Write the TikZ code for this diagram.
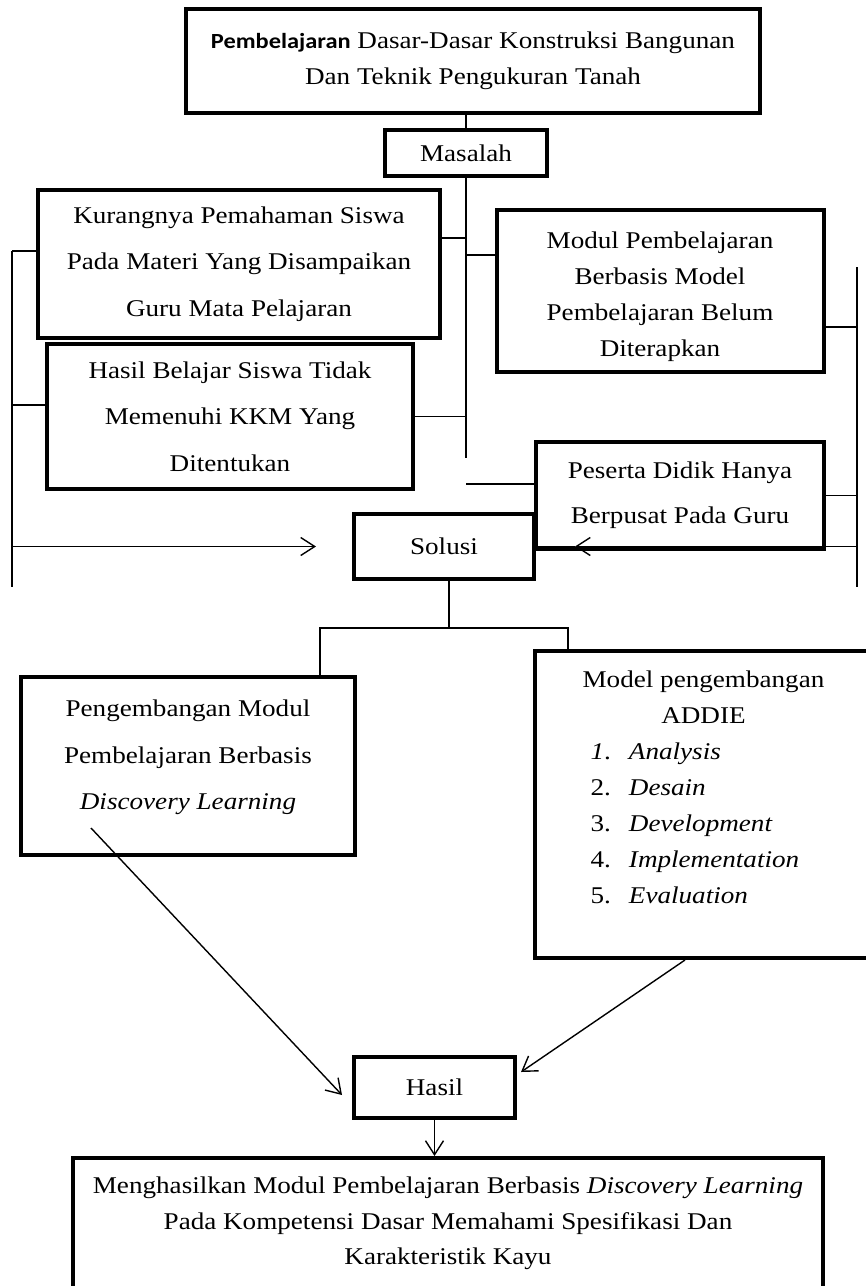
\documentclass[tikz,border=0pt]{standalone}
\usepackage{fontspec}
\setmainfont{Liberation Serif}[FakeStretch=1.13]
\newfontfamily\calibri{Carlito}[FakeStretch=1.13]
\usetikzlibrary{arrows.meta, calc, positioning}

\begin{document}
\begin{tikzpicture}[
    x=0.5pt, y=-0.5pt,
    box/.style={draw, line width=2pt, align=center, inner sep=0pt},
    wide/.style={font=\fontsize{12}{23.25}\selectfont},
    tight/.style={font=\fontsize{12}{18}\selectfont},
    link/.style={line width=0.7pt},
    arr/.style={line width=0.7pt, -{Straight Barb[length=7pt,width=9pt]}}
]
\useasboundingbox (0,0) rectangle (866,1286);

% Top box and problem node
\node[box, tight, minimum width=287pt, minimum height=52pt] (topic) at (473,61)
    {{\calibri\fontsize{10.8}{18}\selectfont\bfseries Pembelajaran} Dasar-Dasar Konstruksi Bangunan\\Dan Teknik Pengukuran Tanah};
\node[box, tight, minimum width=81pt, minimum height=23pt] (masalah) at (466,153) {Masalah};

% Problems
\node[box, wide, minimum width=201pt, minimum height=74pt] (kurang) at (239,264)
    {Kurangnya Pemahaman Siswa\\Pada Materi Yang Disampaikan\\Guru Mata Pelajaran};
\node[box, tight, minimum width=163.5pt, minimum height=81pt] (modul) at (660,291)
    {\rule{0pt}{14.2pt}Modul Pembelajaran\\Berbasis Model\\Pembelajaran Belum\\Diterapkan};
\node[box, wide, minimum width=183pt, minimum height=72.5pt] (hasilbel) at (230,416.5)
    {Hasil Belajar Siswa Tidak\\Memenuhi KKM Yang\\Ditentukan};
\node[box, font=\fontsize{12}{22.5}\selectfont, minimum width=144pt, minimum height=53.5pt] (peserta) at (680,495.5)
    {Peserta Didik Hanya\\Berpusat Pada Guru};

% Solution
\node[box, tight, minimum width=90pt, minimum height=32.5pt] (solusi) at (444,546.5) {Solusi};
\node[box, wide, minimum width=167pt, minimum height=89pt] (pengemb) at (188,766)
    {\begin{tabular}{@{}c@{}}
    Pengembangan Modul\\
    Pembelajaran Berbasis\\
    \textit{Discovery Learning}\\[12pt]
    \end{tabular}};
\node[box, tight, minimum width=168.5pt, minimum height=153.5pt] (addie) at (703.5,804.5)
    {\begin{tabular}{@{\hspace{4pt}}r@{\hspace{9pt}}l@{}}
    \multicolumn{2}{@{}c@{}}{Model pengembangan}\\
    \multicolumn{2}{@{}c@{}}{ADDIE}\\
    \textit{1}. & \textit{Analysis}\\
    2. & \textit{Desain}\\
    3. & \textit{Development}\\
    4. & \textit{Implementation}\\
    5. & \textit{Evaluation}\\[16.5pt]
    \end{tabular}};

% Result
\node[box, tight, minimum width=80.5pt, minimum height=30.5pt] (hasil) at (434.5,1087.5) {Hasil};
\node[box, font=\fontsize{12}{17.75}\selectfont, minimum width=375pt, minimum height=65.5pt] (result) at (448,1223.5)
    {Menghasilkan Modul Pembelajaran Berbasis \textit{Discovery Learning}\\Pada Kompetensi Dasar Memahami Spesifikasi Dan\\Karakteristik Kayu};

% Trunk under Masalah
\coordinate (trunk) at (466,458);
\draw[link] (masalah.north |- topic.south) -- (masalah.north);
\draw[link] (masalah.south) -- (trunk);
\draw[link] ($(kurang.east)+(0,-26)$) coordinate (k1) -- (k1 -| trunk);
\draw[link] ($(modul.west)+(0,-36)$) coordinate (m1) -- (m1 -| trunk);
\draw[link] (hasilbel.east) -- (hasilbel.east -| trunk);
\draw[link] ($(peserta.west)+(0,-11.5)$) coordinate (p1) -- (p1 -| trunk);

% Left bracket
\coordinate (lefttop) at (12,251);
\coordinate (leftbot) at (12,587);
\draw[link] (lefttop) -- (leftbot);
\draw[link] (lefttop) -- (lefttop -| kurang.west);
\draw[link] ($(hasilbel.west)+(0,-11.5)$) coordinate (h1) -- (h1 -| lefttop);
\draw[arr] (solusi.west -| lefttop) -- ($(solusi.west)+(-36,0)$);

% Right bracket
\coordinate (righttop) at (857,267);
\coordinate (rightbot) at (857,587);
\draw[link] (righttop) -- (rightbot);
\draw[link] ($(modul.east)+(0,36)$) coordinate (m2) -- (m2 -| righttop);
\draw[link] (peserta.east) -- (peserta.east -| righttop);
\draw[arr] (solusi.east -| righttop) -- ($(solusi.east)+(39,0)$);
\draw[link] ($(solusi.east)+(39,0)$) -- (solusi.east);

% Split below Solusi
\coordinate (split) at (449,628);
\draw[link] (solusi.south -| split) -- (split);
\draw[link] ($(pengemb.north)+(132,0)$) |- (split) -| ($(addie.north)+(-135.5,0)$);

% Into Hasil
\draw[arr] ($(pengemb.center)+(-97,62)$) -- ($(hasil.west)+(-10,7.5)$);
\draw[arr] ($(addie.south)+(-18.5,0)$) -- ($(hasil.east)+(4,-15.5)$);
\draw[arr] (hasil.south) -- (hasil.south |- result.north);

\end{tikzpicture}
\end{document}
